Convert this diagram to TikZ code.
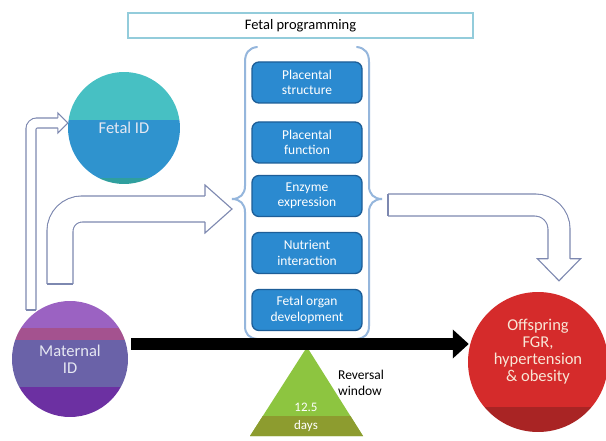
\documentclass[tikz,border=0pt]{standalone}
\usepackage{fontspec}
\setmainfont{Carlito}
\usetikzlibrary{arrows.meta,calc}
\definecolor{outl}{HTML}{7D88B0}
\definecolor{titleb}{HTML}{93CCDB}
\definecolor{bracec}{HTML}{95B6DC}
\definecolor{boxfill}{HTML}{2B8AD0}
\definecolor{boxedge}{HTML}{1D5E98}
\definecolor{fetTop}{HTML}{47C0C3}
\definecolor{fetBot}{HTML}{2F93CE}
\definecolor{fetBand}{HTML}{2F9F9E}
\definecolor{matTop}{HTML}{9B62C2}
\definecolor{matPink}{HTML}{A4528F}
\definecolor{matMid}{HTML}{6A62A8}
\definecolor{matBot}{HTML}{6C30A2}
\definecolor{offMain}{HTML}{D52B2B}
\definecolor{offBot}{HTML}{A92424}
\definecolor{triTop}{HTML}{8DC540}
\definecolor{triBot}{HTML}{8D9C2F}
\definecolor{circtext}{HTML}{E6E8F2}
\definecolor{offtext}{HTML}{F8E6D6}
\begin{document}
\begin{tikzpicture}[x=1pt,y=-1pt,
  boxst/.style={draw=boxedge, fill=boxfill, rounded corners=7pt, minimum width=110pt,
    minimum height=41pt, line width=1.3pt, text=white, align=center,
    font=\fontsize{13.5}{15.5}\selectfont, inner sep=0pt},
  circ/.style={circle, inner sep=0pt, align=center, font=\fontsize{16.5}{17}\selectfont},
  hollowline/.style={draw=outl, line width=1.1pt, double=white, double distance=#1},
  headst/.style={fill=white, draw=outl, line width=1.1pt, line join=miter},
  endst/.style={draw=outl, line width=1.1pt},
  bracest/.style={draw=bracec, line width=2pt, line cap=round},
]
\useasboundingbox (0,0) rectangle (606,441);
\fill[white] (0,0) rectangle (606,441);

% title
\node[draw=titleb, line width=1.5pt, minimum width=345pt, minimum height=25pt,
  inner sep=0pt, font=\fontsize{14.5}{16}\selectfont] (title) at (300.5,25.5) {Fetal programming};

% circles
\node[circ, minimum size=112pt, text=circtext, path picture={
  \fill[fetTop] (path picture bounding box.north west) rectangle ([yshift=-48pt]path picture bounding box.north east);
  \fill[fetBot] ([yshift=-48pt]path picture bounding box.north west) rectangle ([yshift=-106pt]path picture bounding box.north east);
  \fill[fetBand] ([yshift=-106pt]path picture bounding box.north west) rectangle (path picture bounding box.south east);
}] (fet) at (124,128) {Fetal ID};

\node[circ, minimum size=116pt, text=circtext, path picture={
  \fill[matTop] (path picture bounding box.north west) rectangle ([yshift=-27pt]path picture bounding box.north east);
  \fill[matPink] ([yshift=-27pt]path picture bounding box.north west) rectangle ([yshift=-39pt]path picture bounding box.north east);
  \fill[matMid] ([yshift=-39pt]path picture bounding box.north west) rectangle ([yshift=-86pt]path picture bounding box.north east);
  \fill[matBot] ([yshift=-86pt]path picture bounding box.north west) rectangle (path picture bounding box.south east);
}] (mat) at (70,359) {Maternal\\ID};

\node[circ, minimum size=140pt, path picture={
  \fill[offMain] (path picture bounding box.north west) rectangle ([yshift=-115pt]path picture bounding box.north east);
  \fill[offBot] ([yshift=-115pt]path picture bounding box.north west) rectangle (path picture bounding box.south east);
}] (off) at (538,362) {};
\node[circ, text=offtext] (offtxt) at ([yshift=10pt]off.center) {Offspring\\FGR,\\hypertension\\\& obesity};

% braces
\coordinate (bl) at (232,199);
\coordinate (br) at (382,199);
\draw[bracest] (257,47) .. controls (249,48) and (245,53) .. (245,62) -- (245,186)
  .. controls (245,194) and (240,199) .. (bl) .. controls (240,199) and (245,204) .. (245,212)
  -- (245,326) .. controls (245,334) and (249,338) .. (257,339);
\draw[bracest] (357,47) .. controls (365,48) and (369,53) .. (369,62) -- (369,186)
  .. controls (369,194) and (374,199) .. (br) .. controls (374,199) and (369,204) .. (369,212)
  -- (369,326) .. controls (369,334) and (365,338) .. (357,339);

% boxes
\node[boxst] (b1) at (307,82.5) {Placental\\structure};
\node[boxst] (b2) at (307,142.5) {Placental\\function};
\node[boxst] (b3) at (307,196) {Enzyme\\expression};
\node[boxst] (b4) at (307,253) {Nutrient\\interaction};
\node[boxst] (b5) at (307,310) {Fetal organ\\development};

% hollow arrow a: maternal -> fetal
\coordinate (a0) at (31,310);
\coordinate (aT) at ([yshift=5pt]fet.west);
\coordinate (aB) at ([xshift=-10pt]aT);
\draw[hollowline=8.9pt, rounded corners=6pt] (a0) |- (aB);
\draw[endst] ([xshift=-5pt]a0) -- ([xshift=5pt]a0);
\filldraw[headst] ([yshift=5pt]aB) -- ([yshift=10pt]aB) -- (aT) -- ([yshift=-10pt]aB) -- ([yshift=-5pt]aB);

% hollow arrow b: maternal -> brace
\coordinate (b0) at (60,284);
\coordinate (bT) at ([yshift=-10pt]bl);
\coordinate (bB) at ([xshift=-27pt]bT);
\draw[hollowline=24.9pt, rounded corners=22pt] (b0) |- (bB);
\draw[endst] ([xshift=-13pt]b0) -- ([xshift=13pt]b0);
\filldraw[headst] ([yshift=13pt]bB) -- ([yshift=24pt]bB) -- (bT) -- ([yshift=-24pt]bB) -- ([yshift=-13pt]bB);

% hollow arrow c: brace -> offspring
\coordinate (c0) at ([xshift=6pt,yshift=-6pt]br);
\coordinate (cT) at ([xshift=21pt,yshift=11pt]off.north);
\coordinate (cB) at ([yshift=22pt]cT);
\draw[hollowline=20.9pt, rounded corners=24pt] (c0) -| (cB);
\draw[endst] ([yshift=11pt]c0) -- ([yshift=-11pt]c0);
\filldraw[headst] ([xshift=-11pt]cB) -- ([xshift=-21.5pt]cB) -- (cT) -- ([xshift=21.5pt]cB) -- ([xshift=11pt]cB);

% triangle
\coordinate (tA) at (307,347);
\coordinate (tL) at (250,436);
\coordinate (tR) at (363,436);
\fill[triTop] (tA) -- (tL) -- (tR) -- cycle;
\begin{scope}
  \clip (tA) -- (tL) -- (tR) -- cycle;
  \fill[triBot] (200,416) rectangle (400,440);
\end{scope}
\node[text=white, font=\fontsize{13}{14}\selectfont, inner sep=0pt] (t1) at (306,407) {12.5};
\node[text=white, font=\fontsize{13}{14}\selectfont, inner sep=0pt] (t2) at (306,426) {days};
\node[align=left, anchor=west, inner sep=0pt, font=\fontsize{13.5}{16}\selectfont] (rev) at (338,383) {Reversal\\window};

% black arrow
\draw[line width=12pt, -{Triangle[length=16pt,width=28pt]}] ([xshift=3pt,yshift=15pt]mat.east) -- ([xshift=1pt,yshift=18pt]off.west);
\end{tikzpicture}
\end{document}
